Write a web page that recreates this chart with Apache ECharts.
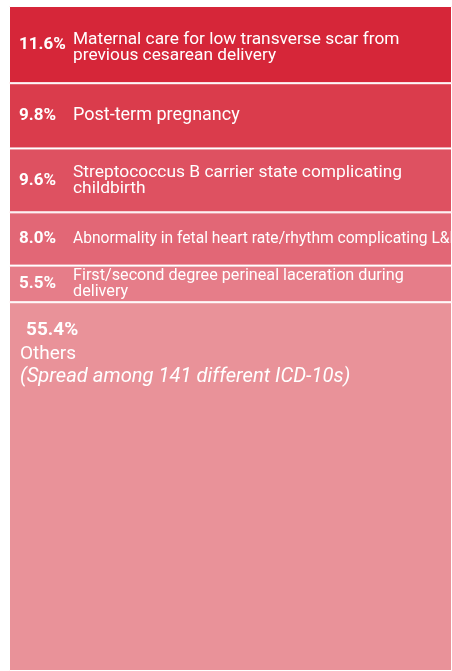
<!DOCTYPE html>
<html>
<head>
<meta charset="utf-8">
<script src="https://cdn.jsdelivr.net/npm/echarts@6/dist/echarts.min.js"></script>
<style>
  html, body { margin: 0; padding: 0; background: #fff; }
  #chart { width: 452px; height: 671px; }
</style>
</head>
<body>
<div id="chart"></div>
<script>
// share of claims per diagnosis, top to bottom
const shares = [11.6, 9.8, 9.6, 8.0, 5.5, 55.4];
const causes = [
  "Maternal care for low transverse scar from\nprevious cesarean delivery",
  "Post-term pregnancy",
  "Streptococcus B carrier state complicating\nchildbirth",
  "Abnormality in fetal heart rate/rhythm complicating L&D",
  "First/second degree perineal laceration during\ndelivery",
  "Others"
];
const othersNote = "(Spread among 141 different ICD-10s)";

const colors = ["#d62639", "#da3c4c", "#de5161", "#e26776", "#e67d89", "#e99299"];
const nameSizes = [17.3, 18, 17.4, 15.6, 16.2, 19];
const FONT = "Roboto";

const chart = echarts.init(document.getElementById("chart"));

const series = [];
shares.forEach((v, i) => {
  const last = i === shares.length - 1;
  // coloured block + percentage
  series.push({
    name: causes[i],
    type: "bar",
    stack: "share",
    barWidth: "100%",
    barGap: "-100%",
    data: [v],
    itemStyle: { color: colors[i], borderColor: "#fff", borderWidth: 1 },
    label: {
      show: !last,
      position: [10, "50%"],
      verticalAlign: "middle",
      align: "left",
      color: "#fff",
      fontFamily: FONT,
      fontWeight: "bold",
      fontSize: 17,
      formatter: (p) => p.value.toFixed(1) + "%"
    }
  });
  // transparent twin carrying the diagnosis text
  series.push({
    name: causes[i] + " label",
    type: "bar",
    stack: "text",
    barWidth: "100%",
    barGap: "-100%",
    data: [v],
    itemStyle: { color: "transparent" },
    label: last ? {
      show: true,
      position: [11, 16],
      verticalAlign: "top",
      align: "left",
      color: "#fff",
      fontFamily: FONT,
      formatter: () => "{p|" + v.toFixed(1) + "%}\n{t|" + causes[i] + "}\n{n|" + othersNote + "}",
      rich: {
        p: { fontFamily: FONT, fontWeight: "bold", fontSize: 19, lineHeight: 24, color: "#fff", padding: [0, 0, 0, 6] },
        t: { fontFamily: FONT, fontSize: 19, lineHeight: 24, color: "#fff" },
        n: { fontFamily: FONT, fontStyle: "italic", fontSize: 20.2, lineHeight: 22, color: "#fff" }
      }
    } : {
      show: true,
      position: [64, "50%"],
      offset: [0, i === 0 ? 3 : 0],
      verticalAlign: "middle",
      align: "left",
      color: "#fff",
      fontFamily: FONT,
      fontSize: nameSizes[i],
      lineHeight: 16,
      formatter: () => causes[i]
    }
  });
});

chart.setOption({
  animation: false,
  grid: { left: 9, right: -4, top: 6, bottom: -1 },
  xAxis: { type: "category", data: [""], show: false },
  yAxis: { type: "value", inverse: true, min: 0, max: "dataMax", show: false },
  series: series.map((s) => ({ ...s, emphasis: { disabled: true }, silent: true }))
});
</script>
</body>
</html>
